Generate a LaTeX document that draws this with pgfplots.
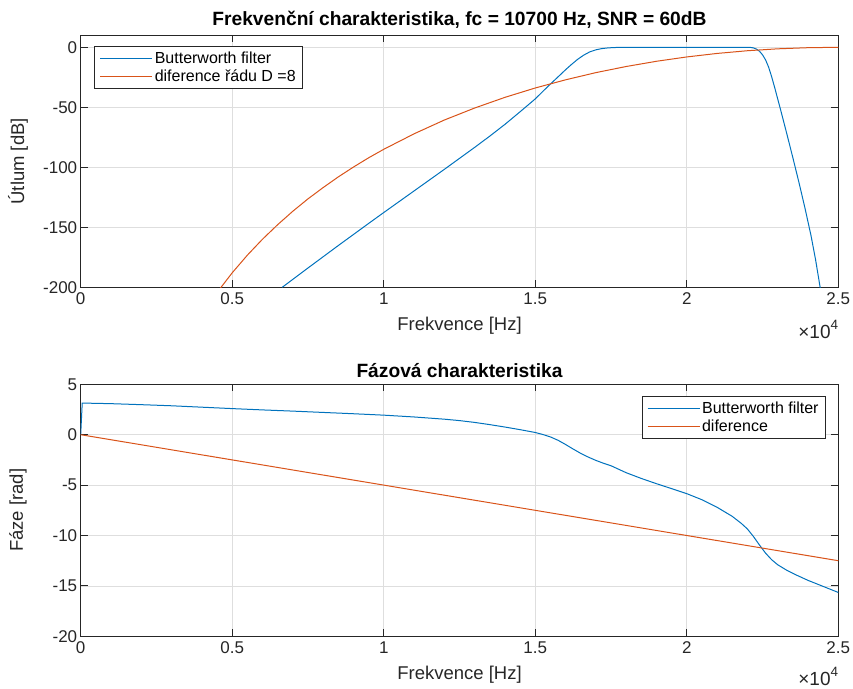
\documentclass[border=0pt]{standalone}
\usepackage{pgfplots}
\pgfplotsset{compat=1.18}
\usepackage{fontspec}
\setmainfont{Liberation Sans}
\definecolor{mblue}{rgb}{0,0.447,0.741}
\definecolor{morange}{rgb}{0.85,0.325,0.098}
\definecolor{axgray}{rgb}{0.15,0.15,0.15}
\definecolor{gridgray}{rgb}{0.87,0.87,0.87}
\pgfplotsset{
 blueimg/.style={legend image code/.code={\draw[mblue, line width=1pt] (0pt,0pt) -- (52pt,0pt);}},
 orangeimg/.style={legend image code/.code={\draw[morange, line width=1pt] (0pt,0pt) -- (52pt,0pt);}},
 mstyle/.style={
  scale only axis, width=757.6pt, height=252pt,
  xmin=0, xmax=2.5, xtick={0,0.5,1,1.5,2,2.5},
  xticklabels={0,0.5,1,1.5,2,2.5},
  grid=major, major grid style={gridgray, line width=0.8pt},
  axis line style={axgray, line width=0.9pt},
  tick style={axgray, line width=0.9pt}, major tick length=7pt,
  tick align=inside,
  ticklabel style={font=\fontsize{17}{20}\selectfont, text=axgray},
  xticklabel style={yshift=-2pt},
  label style={font=\fontsize{18.5}{22}\selectfont, text=axgray},
  xlabel style={at={(axis description cs:0.5,-0.154)}, anchor=center},
  ylabel style={at={(axis description cs:-0.0828,0.5)}, anchor=center},
  title style={font=\fontsize{19.2}{22}\selectfont\bfseries, yshift=-3pt},
  legend style={font=\fontsize{16}{19}\selectfont, draw=axgray, line width=0.9pt,
    inner xsep=5pt, inner ysep=3.5pt, row sep=0.5pt},
  legend cell align=left,
  every axis plot/.append style={line width=1pt},
 }
}
\begin{document}
\begin{tikzpicture}
\useasboundingbox (0,0) rectangle (853pt,-688pt);
\begin{axis}[mstyle, at={(80.7pt,-287.3pt)}, anchor=south west,
  ymin=-200, ymax=10, ytick={-200,-150,-100,-50,0},
  yticklabels={-200,-150,-100,-50,0},
  title={Frekvenční charakteristika, fc = 10700 Hz, SNR = 60dB},
  xlabel={Frekvence [Hz]}, ylabel={Útlum [dB]},
  legend style={at={(0.018,0.9575)}, anchor=north west},
  extra description/.code={\node[anchor=north east, text=axgray, inner sep=0pt] at (1,0) [yshift=-33pt] {\fontsize{19}{22}\selectfont ×10\raisebox{0.45em}{\fontsize{13.5}{15}\selectfont 4}};}]
\addlegendimage{blueimg}
\addlegendimage{orangeimg}
\addplot[mblue, forget plot] coordinates {(0.665,-200) (0.75,-183.9) (0.85,-165.2) (0.95,-146.8) (1.0,-137.7) (1.1,-119.7) (1.2,-101.7) (1.3,-83.4) (1.35,-74.0) (1.4,-64.2) (1.45,-53.7) (1.5,-43) (1.53,-35.5) (1.561,-28) (1.58,-23.5) (1.6,-18.7) (1.62,-14.2) (1.64,-10.0) (1.66,-6.5) (1.68,-3.8) (1.7,-2.1) (1.72,-1.05) (1.74,-0.5) (1.76,-0.2) (1.78,-0.07) (1.8,-0.02) (1.82,0) (2.2,0) (2.21,-0.1) (2.22,-0.5) (2.23,-1.5) (2.24,-3.3) (2.25,-6.3) (2.26,-10.5) (2.27,-16.5) (2.28,-24.5) (2.29,-33.5) (2.3,-43) (2.31,-52.5) (2.33,-72) (2.35,-92) (2.37,-112.5) (2.39,-134) (2.41,-157) (2.425,-177) (2.44,-200) (2.45,-215)};
\addplot[morange, forget plot] coordinates {(0.45,-204.3) (0.5,-187.9) (0.55,-173.2) (0.6,-159.9) (0.65,-147.8) (0.7,-136.6) (0.75,-126.3) (0.8,-116.9) (0.85,-108.0) (0.9,-99.8) (0.95,-92.1) (1.0,-85.0) (1.1,-72.1) (1.2,-60.6) (1.3,-50.6) (1.4,-41.7) (1.5,-33.9) (1.6,-27.1) (1.7,-21.1) (1.8,-16.0) (1.9,-11.65) (2.0,-8.03) (2.1,-5.11) (2.2,-2.86) (2.3,-1.27) (2.4,-0.32) (2.5,0)};
\legend{{Butterworth filter},{diference řádu D {=}8}}
\end{axis}
\begin{axis}[mstyle, at={(80.7pt,-636.3pt)}, anchor=south west,
  ymin=-20, ymax=5, ytick={-20,-15,-10,-5,0,5},
  yticklabels={-20,-15,-10,-5,0,5},
  title={Fázová charakteristika},
  xlabel={Frekvence [Hz]}, ylabel={Fáze [rad]},
  legend style={at={(0.9838,0.9536)}, anchor=north east},
  extra description/.code={\node[anchor=north east, text=axgray, inner sep=0pt] at (1,0) [yshift=-31pt] {\fontsize{19}{22}\selectfont ×10\raisebox{0.45em}{\fontsize{13.5}{15}\selectfont 4}};}]
\addlegendimage{blueimg}
\addlegendimage{orangeimg}
\addplot[mblue, forget plot] coordinates {(0,0) (0.005,3.14) (0.1,3.08) (0.2,2.98) (0.3,2.87) (0.4,2.73) (0.5,2.59) (0.6,2.46) (0.7,2.34) (0.8,2.21) (0.9,2.08) (1.0,1.94) (1.1,1.76) (1.2,1.54) (1.25,1.40) (1.3,1.22) (1.35,1.0) (1.4,0.76) (1.45,0.5) (1.5,0.22) (1.525,0.02) (1.55,-0.22) (1.575,-0.55) (1.6,-0.97) (1.625,-1.42) (1.65,-1.85) (1.675,-2.22) (1.7,-2.55) (1.725,-2.83) (1.75,-3.08) (1.8,-3.77) (1.85,-4.34) (1.9,-4.86) (1.95,-5.35) (2.0,-5.85) (2.05,-6.45) (2.1,-7.2) (2.15,-8.1) (2.18,-8.8) (2.2,-9.35) (2.22,-10.1) (2.24,-10.95) (2.26,-11.75) (2.28,-12.4) (2.3,-12.9) (2.33,-13.45) (2.36,-13.9) (2.4,-14.45) (2.45,-15.05) (2.5,-15.65)};
\addplot[morange, forget plot] coordinates {(0,0) (0.5,-2.5) (1,-5) (1.5,-7.5) (2,-10) (2.5,-12.5)};
\legend{{Butterworth filter},{diference}}
\end{axis}
\end{tikzpicture}
\end{document}
